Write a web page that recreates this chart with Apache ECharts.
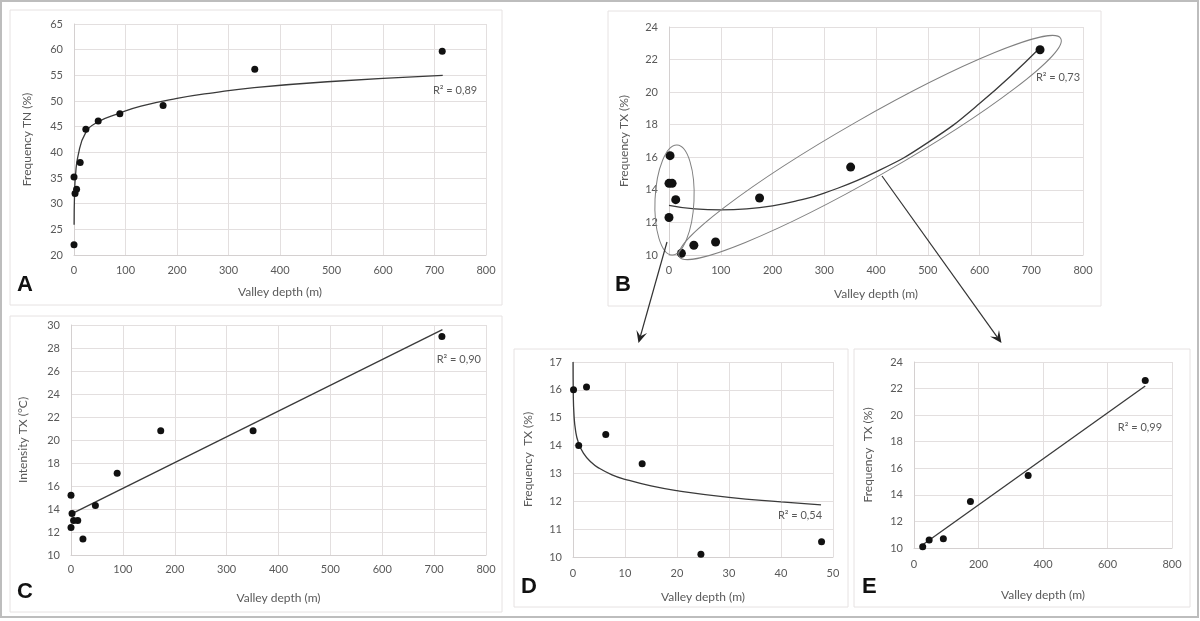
<!DOCTYPE html>
<html>
<head>
    <meta charset="utf-8">
    <style>
        body { margin: 0; background: #fff; }
        #fig { width: 1200px; height: 621px; }
    </style>
    <script type="text/javascript" src="https://cdn.jsdelivr.net/npm/echarts@6/dist/echarts.min.js"></script>
</head>
<body>
<div id="fig"></div>
<script type="text/javascript">
    // A - Frequency TN
    var depthA = [0, 0, 2, 5, 12, 23, 47, 89, 173, 351, 715];
    var tnA = [22.0, 35.2, 32.0, 32.8, 38.0, 44.5, 46.1, 47.5, 49.1, 56.2, 59.7];
    var trendA = [[0.2, 25.9], [1, 31.7], [3, 35.6], [8, 39.4], [22, 43.7], [46, 45.9], [88, 47.6], [130, 49.0],
        [200, 50.5], [270, 51.6], [350, 52.6], [500, 53.8], [716, 55.0]];

    // B - Frequency TX, all stations
    var depthB = [2, 0, 6, 13, 0, 24, 48, 90, 175, 351, 717];
    var txB = [16.1, 14.4, 14.4, 13.4, 12.3, 10.1, 10.6, 10.8, 13.5, 15.4, 22.6];
    var trendB = [[0, 13.05], [50, 12.83], [100, 12.77], [150, 12.83], [200, 13.02], [250, 13.35], [300, 13.8],
        [400, 15.1], [500, 16.9], [600, 19.3], [716, 22.7]];

    // C - Intensity TX
    var depthC = [0, 2, 0, 5, 13, 23, 47, 89, 173, 351, 715];
    var intC = [15.2, 13.6, 12.4, 13.0, 13.0, 11.4, 14.3, 17.1, 20.8, 20.8, 29.0];
    var trendC = [[0, 13.55], [716, 29.6]];

    // D - shallow valleys
    var depthD = [0.1, 1.1, 2.6, 6.3, 13.3, 24.6, 47.8];
    var txD = [16.0, 14.0, 16.1, 14.4, 13.35, 10.1, 10.55];
    var trendD = [[0.008, 17], [0.05, 15.9], [0.2, 15.07], [0.5, 14.53], [1, 14.13], [2, 13.73], [3.5, 13.4],
        [5, 13.19], [7.5, 12.95], [10, 12.79], [15, 12.55], [20, 12.38], [30, 12.14], [40, 11.98], [47.7, 11.87]];

    // E - deeper valleys
    var depthE = [27, 47, 91, 175, 354, 717];
    var txE = [10.1, 10.6, 10.7, 13.5, 15.45, 22.6];
    var trendE = [[27, 10.25], [717, 22.2]];

    var rsq = ['R\u00b2 = 0,89', 'R\u00b2 = 0,73', 'R\u00b2 = 0,90', 'R\u00b2 = 0,54', 'R\u00b2 = 0,99'];
    var letters = ['A', 'B', 'C', 'D', 'E'];
    var yNames = ['Frequency TN (%)', 'Frequency TX (%)', 'Intensity TX (\u00b0C)', 'Frequency  TX (%)', 'Frequency  TX (%)'];

    var FONT = 'Lato';
    var GRAY = '#595959';
    var GRID_C = '#e3dfdf';

    function pairs(xs, ys) {
        var out = [];
        for (var i = 0; i < xs.length; i++) out.push([xs[i], ys[i]]);
        return out;
    }

    var grids = [
        {left: 74, top: 24, width: 412, height: 231},
        {left: 669, top: 27, width: 414, height: 228},
        {left: 71, top: 325, width: 415, height: 230},
        {left: 573, top: 362, width: 260, height: 195},
        {left: 914, top: 362, width: 258, height: 186}
    ];
    var xr = [[0, 800, 100], [0, 800, 100], [0, 800, 100], [0, 50, 10], [0, 800, 200]];
    var yr = [[20, 65, 5], [10, 24, 2], [10, 30, 2], [10, 17, 1], [10, 24, 2]];
    var xGap = [31, 33, 37, 34, 41];
    var yGap = [41, 39, 42, 39, 40];
    var xLblMargin = [10, 10, 9, 11, 11];

    var xAxes = [], yAxes = [];
    for (var g = 0; g < 5; g++) {
        xAxes.push({
            gridIndex: g, type: 'value', min: xr[g][0], max: xr[g][1], interval: xr[g][2],
            name: 'Valley depth (m)', nameLocation: 'middle', nameGap: xGap[g],
            nameTextStyle: {color: GRAY, fontFamily: FONT, fontSize: 12},
            axisLine: {show: true, lineStyle: {color: '#d4d0d0'}},
            axisTick: {show: false},
            axisLabel: {color: GRAY, fontFamily: FONT, fontSize: 11, margin: xLblMargin[g]},
            splitLine: {show: true, lineStyle: {color: GRID_C}}
        });
        yAxes.push({
            gridIndex: g, type: 'value', min: yr[g][0], max: yr[g][1], interval: yr[g][2],
            name: yNames[g], nameLocation: 'middle', nameGap: yGap[g],
            nameTextStyle: {color: GRAY, fontFamily: FONT, fontSize: 12},
            axisLine: {show: true, lineStyle: {color: '#d4d0d0'}},
            axisTick: {show: false},
            axisLabel: {color: GRAY, fontFamily: FONT, fontSize: 11, margin: 11},
            splitLine: {show: true, lineStyle: {color: GRID_C}}
        });
    }

    var pts = [pairs(depthA, tnA), pairs(depthB, txB), pairs(depthC, intC), pairs(depthD, txD), pairs(depthE, txE)];
    var trends = [trendA, trendB, trendC, trendD, trendE];
    var symSize = [7, 9, 7, 7, 7];

    var series = [];
    for (var s = 0; s < 5; s++) {
        series.push({
            type: 'line', xAxisIndex: s, yAxisIndex: s, data: trends[s],
            showSymbol: false, smooth: trends[s].length > 2 ? 0.5 : false,
            lineStyle: {color: '#3a3a3a', width: 1.3}, silent: true, z: 3
        });
        series.push({
            type: 'scatter', xAxisIndex: s, yAxisIndex: s, data: pts[s],
            symbolSize: symSize[s], itemStyle: {color: '#111', opacity: 1}, z: 4
        });
    }

    var chart = echarts.init(document.getElementById('fig'), null, {renderer: 'canvas'});
    chart.setOption({
        animation: false,
        backgroundColor: '#fff',
        grid: grids,
        xAxis: xAxes,
        yAxis: yAxes,
        series: series
    });

    // annotations (panel frames, letters, R2 text, ellipses, arrows)
    function px(g, p) {
        return chart.convertToPixel({xAxisIndex: g, yAxisIndex: g}, p);
    }

    var boxes = [[10, 10, 492, 295], [608, 11, 493, 295], [10, 316, 492, 296], [514, 349, 334, 258], [854, 349, 336, 258]];
    var letterPos = [[17, 296], [615, 296], [17, 603], [521, 598], [862, 598]];
    var rsqAt = [[697, 52.1], [709, 20.9], [705, 27.0], [39.4, 11.5], [632, 19.05]];

    var graphic = [];
    graphic.push({type: 'rect', shape: {x: 1, y: 1, width: 1197, height: 616}, style: {fill: null, stroke: '#bdbdbd', lineWidth: 2}, z: -10});
    for (var k = 0; k < 5; k++) {
        graphic.push({type: 'rect', shape: {x: boxes[k][0], y: boxes[k][1], width: boxes[k][2], height: boxes[k][3]},
            style: {fill: null, stroke: '#e6e2e2', lineWidth: 1}, z: -5});
        graphic.push({type: 'text', x: letterPos[k][0], y: letterPos[k][1],
            style: {text: letters[k], fill: '#111', font: 'bold 22px "Liberation Sans"', textVerticalAlign: 'bottom'}, z: 10});
        var p = px(k, rsqAt[k]);
        graphic.push({type: 'text', x: p[0], y: p[1],
            style: {text: rsq[k], fill: GRAY, font: '11px ' + FONT, textVerticalAlign: 'middle'}, z: 10});
    }

    function ellipse(g, a, b, halfMinor) {
        var p1 = px(g, a), p2 = px(g, b);
        var dx = p2[0] - p1[0], dy = p2[1] - p1[1];
        return {type: 'ellipse', x: (p1[0] + p2[0]) / 2, y: (p1[1] + p2[1]) / 2,
            rotation: -Math.atan2(dy, dx),
            shape: {cx: 0, cy: 0, rx: Math.sqrt(dx * dx + dy * dy) / 2, ry: halfMinor},
            style: {fill: null, stroke: '#808080', lineWidth: 1}, z: 5};
    }
    graphic.push(ellipse(1, [5.8, 10.0], [15.5, 16.75], 19.5));
    graphic.push(ellipse(1, [19.9, 9.9], [757, 23.3], 29));

    function arrow(from, tip) {
        var dx = tip[0] - from[0], dy = tip[1] - from[1];
        var len = Math.sqrt(dx * dx + dy * dy), ux = dx / len, uy = dy / len;
        var nx = -uy, ny = ux, L = 12, W = 5.5, notch = 7;
        var back = [tip[0] - ux * L, tip[1] - uy * L];
        var mid = [tip[0] - ux * notch, tip[1] - uy * notch];
        graphic.push({type: 'line', shape: {x1: from[0], y1: from[1], x2: mid[0], y2: mid[1]},
            style: {stroke: '#333', lineWidth: 1.2}, z: 6});
        graphic.push({type: 'polygon', shape: {points: [tip, [back[0] + nx * W, back[1] + ny * W], mid, [back[0] - nx * W, back[1] - ny * W]]},
            style: {fill: '#222'}, z: 6});
    }
    arrow(px(1, [-3.9, 10.8]), [638.5, 343]);
    arrow(px(1, [411.6, 14.85]), [1001.5, 343]);

    chart.setOption({graphic: graphic});
</script>
</body>
</html>
